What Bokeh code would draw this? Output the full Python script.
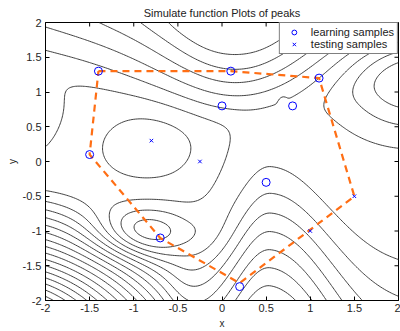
import numpy as np
from bokeh.plotting import figure
from bokeh.models import Range1d, FixedTicker, Legend, LegendItem
from bokeh.embed import file_html
from bokeh.resources import INLINE

# ---- data ----
learn_x = [-1.4, 0.1, 1.1, 0.0, 0.8, -1.5, 0.5, -0.7, 0.2]
learn_y = [1.3, 1.3, 1.2, 0.8, 0.8, 0.1, -0.3, -1.1, -1.8]
test_x = [-0.8, -0.25, 1.5, 1.0]
test_y = [0.3, 0.0, -0.5, -1.0]
hull_x = [-1.4, 0.1, 1.1, 1.5, 0.2, -0.7, -1.5, -1.4]
hull_y = [1.3, 1.3, 1.2, -0.5, -1.75, -1.1, 0.1, 1.3]
ticks = [-2, -1.5, -1, -0.5, 0, 0.5, 1, 1.5, 2]
tick_labels = ["-2", "-1.5", "-1", "-0.5", "0", "0.5", "1", "1.5", "2"]
levels = list(range(-30, 11))


def sig(t):
    return 1.0 / (1.0 + np.exp(-t))


def sp(t):
    return np.logaddexp(0.0, t)


def gauss(X, Y, cx, cy, sx, sy):
    return np.exp(-((X - cx) / sx) ** 2 - ((Y - cy) / sy) ** 2)


# surrogate surface of the "peaks" model, shaped after the drawn contours
gx = np.linspace(-2, 2, 201)
gy = np.linspace(-2, 2, 201)
X, Y = np.meshgrid(gx, gy)
dx = X - 0.15
yb = 0.51 + 0.3 * dx ** 2 / (1 + 0.2 * dx ** 2)
yt = 1.65 + 0.5 * (1 - np.exp(-(dx / 0.6) ** 2))
g = 3.3 + 2.0 * np.exp(-(dx / 0.8) ** 2)
top = g * 0.1 * (sp((Y - yb) / 0.1) - sp((Y - yt) / 0.1))
step = 0.8 * sig((X - 0.3 * Y + 0.02) / 0.1) * (1 - sig((Y - yb - 0.05) / 0.12))
hump = 1.25 * (1 - np.exp(-((X - 0.55) / np.where(X > 0.55, 0.9, 0.55)) ** 2))
kramp = 4.0 - 2.0 * sig((X - 1.3) / 0.3)
ramp = -kramp * 0.2 * sp((-0.1 - Y - hump) / 0.2)
corner = -9.5 * 0.1 * sp((2.15 - np.hypot(X + 2.5, Y + 2.5)) / 0.1)
Z = (-0.3 + top + step + ramp + corner
     - 1.3 * gauss(X, Y, -0.85, 0.2, 0.65, 0.57)
     + 3.3 * gauss(X, Y, -0.88, -1.02, 0.55, 0.36)
     + 1.0 * gauss(X, Y, -2.3, 0.7, 0.5, 0.6)
     - 3.4 * gauss(X, Y, 2.15, 1.15, 0.75, 0.7)
     - 0.9 * gauss(X, Y, 0.69, 0.85, 0.04, 0.07))

FONT = "Liberation Sans"
p = figure(width=400, height=331, x_range=Range1d(-2, 2), y_range=Range1d(-2, 2),
           output_backend="svg", toolbar_location=None,
           min_border_left=45, min_border_right=2, min_border_top=22, min_border_bottom=31,
           title="Simulate function Plots of peaks")
p.title.align = "center"
p.title.text_font = FONT
p.title.text_font_size = "11px"
p.title.text_font_style = "normal"
p.title.text_color = "#222222"
p.title.standoff = 8
p.grid.visible = False
p.outline_line_color = "black"
p.outline_line_width = 1

for ax in (p.xaxis[0], p.yaxis[0]):
    ax.ticker = FixedTicker(ticks=ticks)
    ax.major_label_overrides = {t: s for t, s in zip(ticks, tick_labels)}
    ax.major_label_text_font = FONT
    ax.major_label_text_font_size = "11px"
    ax.major_label_text_color = "#262626"
    ax.major_tick_in = 4
    ax.major_tick_out = 0
    ax.minor_tick_line_color = None
    ax.axis_line_color = "black"
    ax.axis_label_text_font = FONT
    ax.axis_label_text_font_size = "10px"
    ax.axis_label_text_font_style = "normal"
    ax.axis_label_text_color = "#262626"
p.xaxis.axis_label = "x"
p.yaxis.axis_label = "y"
p.xaxis.major_label_standoff = 3
p.xaxis.axis_label_standoff = 3
p.yaxis.major_label_standoff = 4
p.yaxis.axis_label_standoff = 2

# box ticks on the top and right edges
tlx = 4 * 4.0 / 353
tly = 4 * 4.0 / 278
tk = np.array(ticks, dtype=float)
p.segment(x0=tk, y0=np.full_like(tk, 2.0), x1=tk, y1=np.full_like(tk, 2.0 - tly),
          line_color="black", line_width=1)
p.segment(x0=np.full_like(tk, 2.0), y0=tk, x1=np.full_like(tk, 2.0 - tlx), y1=tk,
          line_color="black", line_width=1)

p.contour(gx, gy, Z, levels=levels, line_color="#2b2b2b", line_width=0.9)

hull = p.line(hull_x, hull_y, line_color="#ff6e14", line_width=2.2, line_dash="7 5")
lr = p.scatter(learn_x, learn_y, marker="circle", size=8, fill_color=None,
               line_color="#0000ff", line_width=1)
tr = p.scatter(test_x, test_y, marker="x", size=5, line_color="#0000ff", line_width=1)

legend = Legend(items=[LegendItem(label="learning samples", renderers=[lr]),
                       LegendItem(label="testing samples", renderers=[tr])],
                location="top_right", label_text_font=FONT, label_text_font_size="11px",
                label_text_color="#222222", border_line_color="black", border_line_width=1,
                background_fill_alpha=1, margin=0, padding=3, spacing=0,
                label_height=12, glyph_height=12, glyph_width=22, label_standoff=6)
p.add_layout(legend)

open("out.html", "w").write(file_html(p, INLINE))
